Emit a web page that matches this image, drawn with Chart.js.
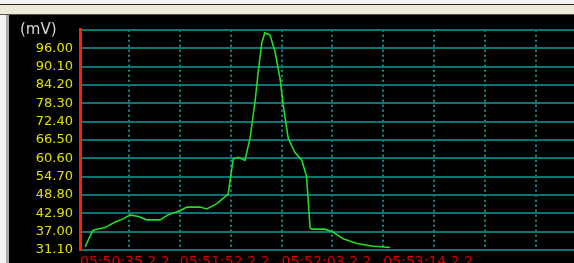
<!DOCTYPE html>
<html>
<head>
<meta charset="utf-8">
<script src="https://cdn.jsdelivr.net/npm/chart.js@4/dist/chart.umd.min.js"></script>
<style>
    html, body { margin: 0; padding: 0; }
    body { width: 574px; height: 263px; overflow: hidden; position: relative; background: #f2f2f2; }
    #topLine { position: absolute; left: 0; top: 4px; width: 574px; height: 1px; background: #222; }
    #titleBar { position: absolute; left: 0; top: 5px; width: 574px; height: 9px; background: #ece9d8; border-bottom: 1px solid #555; }
    #leftEdge { position: absolute; left: 6px; top: 15px; width: 3px; height: 248px; background: #a8a8a8; }
    #wrap { position: absolute; left: 9px; top: 15px; width: 565px; height: 272px; background: #000; }
    #unit { position: absolute; left: 20px; top: 20px; color: #d4d4d4; font: 15px "DejaVu Sans", sans-serif; }
</style>
</head>
<body>
<div id="topLine"></div>
<div id="titleBar"></div>
<div id="leftEdge"></div>
<div id="wrap"><canvas id="chart" width="565" height="272"></canvas></div>
<div id="unit">(mV)</div>
<script>
    // time in grid divisions, voltage in mV
    const times = [0.14, 0.29, 0.33, 0.53, 0.73, 0.89, 1.02, 1.19, 1.35, 1.61, 1.77, 2.00, 2.14, 2.40,
        2.53, 2.73, 2.95, 3.05, 3.15, 3.28, 3.38, 3.48, 3.54, 3.61, 3.67, 3.77, 3.87, 3.97, 4.03,
        4.13, 4.26, 4.40, 4.49, 4.56, 4.59, 4.85, 5.02, 5.21, 5.48, 5.80, 6.13];
    const voltages = [32.1, 37.3, 37.6, 38.3, 40.1, 41.1, 42.4, 41.9, 40.8, 40.8, 42.4, 43.7, 44.9, 44.9,
        44.3, 46.0, 49.1, 60.4, 60.9, 59.9, 67.0, 79.0, 88.2, 97.5, 100.9, 100.3, 95.0, 86.2, 78.0,
        67.1, 62.5, 59.9, 54.8, 38.3, 37.8, 37.8, 36.8, 34.7, 33.2, 32.3, 31.9];
    const yTicks = [31.1, 37.0, 42.9, 48.8, 54.7, 60.6, 66.5, 72.4, 78.3, 84.2, 90.1, 96.0, 101.9];
    const xTicks = [0.04, 1, 2, 3, 4, 5, 6, 7, 8, 9];
    const xLabels = ['05:50:35.2.2', '', '05:51:52.2.2', '', '05:52:03.2.2', '', '05:53:14.2.2', '', '', ''];

    const points = times.map((t, i) => ({ x: t, y: voltages[i] }));

    new Chart(document.getElementById('chart'), {
        type: 'line',
        data: {
            datasets: [{
                data: points,
                borderColor: '#22dd22',
                borderWidth: 1.6,
                pointRadius: 0,
                tension: 0,
                fill: false
            }]
        },
        options: {
            responsive: false,
            animation: false,
            layout: { padding: { top: 5.5, right: 0, left: 0, bottom: 0 } },
            plugins: {
                legend: { display: false },
                tooltip: { enabled: false }
            },
            scales: {
                x: {
                    type: 'linear',
                    min: 0.04,
                    max: 9.745,
                    afterBuildTicks: (scale) => { scale.ticks = xTicks.map(v => ({ value: v })); },
                    afterFit: (scale) => { scale.height = 37; },
                    border: { display: false, dash: [2, 3] },
                    grid: { color: '#148a8a', lineWidth: 2, drawTicks: false },
                    ticks: {
                        align: 'start',
                        padding: 4,
                        maxRotation: 0,
                        autoSkip: false,
                        color: '#d40000',
                        font: { family: 'DejaVu Sans', size: 14 },
                        callback: (v, i) => xLabels[i]
                    }
                },
                y: {
                    min: 31.1,
                    max: 101.9,
                    afterBuildTicks: (scale) => { scale.ticks = yTicks.map(v => ({ value: v })); },
                    afterFit: (scale) => { scale.width = 71; },
                    border: { display: true, color: '#ff2000', width: 3 },
                    grid: { color: '#0b7474', lineWidth: 2, drawTicks: false },
                    ticks: {
                        padding: 7,
                        autoSkip: false,
                        color: '#e0e000',
                        font: { family: 'DejaVu Sans', size: 13 },
                        callback: (v, i) => i === yTicks.length - 1 ? '' : v.toFixed(2)
                    }
                }
            }
        }
    });
</script>
</body>
</html>
